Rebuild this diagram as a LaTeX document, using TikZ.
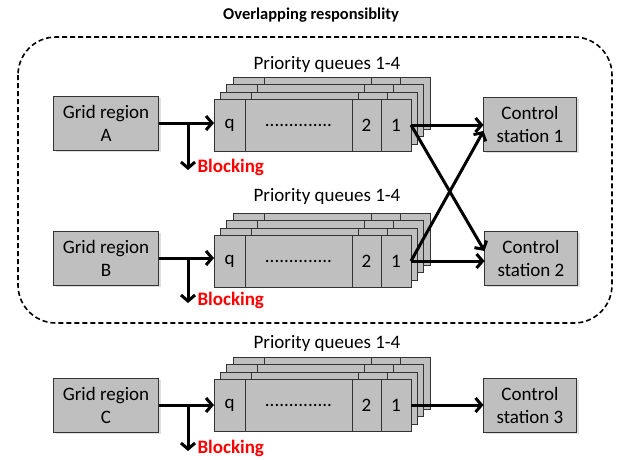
\documentclass[tikz,border=0pt]{standalone}
\usepackage{fontspec}
\setmainfont{Carlito}
\usetikzlibrary{positioning,arrows.meta,calc,shadows}
\definecolor{boxgray}{RGB}{191,191,191}
\tikzset{
  txt/.style={font=\fontsize{19}{23}\selectfont},
  region/.style={txt, draw=black!80, fill=boxgray, align=center, minimum width=105pt, minimum height=54pt, inner sep=0pt, outer sep=0pt, drop shadow={shadow xshift=2pt, shadow yshift=-2pt, opacity=0.25}},
  station/.style={region, minimum width=93pt},
  cell/.style={txt, draw=black!80, fill=boxgray, minimum height=52pt, inner sep=0pt, outer sep=0pt, anchor=west},
  flow/.style={line width=3pt, -{Straight Barb[length=6pt,width=14pt,line width=3pt]}},
  blocking/.style={font=\fontsize{19}{23}\selectfont\bfseries, text=red, anchor=west, inner sep=0pt, xshift=8pt, yshift=3pt},
  dashbox/.style={dash pattern=on 5pt off 3pt, line width=1.6pt, rounded corners=38pt}
}
% one layer of a queue, top left corner at (#1,#2)
\newcommand{\qlayer}[2]{%
  \draw[draw=black!80, fill=boxgray] (#1,#2) rectangle ++(197,52);
  \draw[black!80] (#1+31,#2) -- ++(0,52) (#1+138,#2) -- ++(0,52) (#1+167,#2) -- ++(0,52);
}
\begin{document}
\begin{tikzpicture}[x=1pt,y=-1pt]
\useasboundingbox (0,0) rectangle (623,459);
\node[font=\fontsize{16.5}{20}\selectfont\bfseries] (title) at (311,15) {Overlapping responsiblity};
\draw[dashbox] (18,37) rectangle (612,323);

% back layers of the three queues
\foreach \k in {3,2,1} {
  \qlayer{214+6.3*\k}{99-7.3*\k}
  \qlayer{214+6.3*\k}{235-7.3*\k}
  \qlayer{214+6.3*\k}{379-7.3*\k}
}

% row A
\node[region] (gA) at (106,123) {Grid region\\A};
\node[cell, minimum width=31pt] (qA) at (214,125) {q};
\node[cell, minimum width=107pt, right=0pt of qA] (dA) {..............};
\node[cell, minimum width=29pt, right=0pt of dA] (tA) {2};
\node[cell, minimum width=30pt, right=0pt of tA] (oA) {1};
\node[txt] (lA) at (327,64) {Priority queues 1-4};
\node[station] (cs1) at (530,124) {Control\\station 1};

% row B
\node[region] (gB) at (106,258) {Grid region\\B};
\node[cell, minimum width=31pt] (qB) at (214,261) {q};
\node[cell, minimum width=107pt, right=0pt of qB] (dB) {..............};
\node[cell, minimum width=29pt, right=0pt of dB] (tB) {2};
\node[cell, minimum width=30pt, right=0pt of tB] (oB) {1};
\node[txt] (lB) at (327,196) {Priority queues 1-4};
\node[station] (cs2) at (531,258) {Control\\station 2};

% row C
\node[region] (gC) at (106,405) {Grid region\\C};
\node[cell, minimum width=31pt] (qC) at (214,405) {q};
\node[cell, minimum width=107pt, right=0pt of qC] (dC) {..............};
\node[cell, minimum width=29pt, right=0pt of dC] (tC) {2};
\node[cell, minimum width=30pt, right=0pt of tC] (oC) {1};
\node[txt] (lC) at (327,343) {Priority queues 1-4};
\node[station] (cs3) at (530,405) {Control\\station 3};

% inputs and blocking
\coordinate (jA) at (188,123);
\coordinate (bA) at (188,170);
\coordinate (jB) at (188,258);
\coordinate (bB) at (188,303);
\coordinate (jC) at (188,405);
\coordinate (bC) at (188,451);
\draw[flow] (gA.east) -- (gA.east -| qA.west);
\draw[flow] (gB.east) -- (gB.east -| qB.west);
\draw[flow] (gC.east) -- (gC.east -| qC.west);
\draw[flow] (jA) -- (bA) node[blocking] (blA) {Blocking};
\draw[flow] (jB) -- (bB) node[blocking] (blB) {Blocking};
\draw[flow] (jC) -- (bC) node[blocking] (blC) {Blocking};

% outputs
\draw[flow] (oA.east) -- (oA.east -| cs1.west);
\draw[flow] (oA.east) -- ($(cs2.west)+(0,-7)$);
\draw[flow] (oB.east) -- ($(cs1.west)+(0,7)$);
\draw[flow] (oB.east) -- (oB.east -| cs2.west);
\draw[flow] (oC.east) -- (oC.east -| cs3.west);
\end{tikzpicture}
\end{document}
